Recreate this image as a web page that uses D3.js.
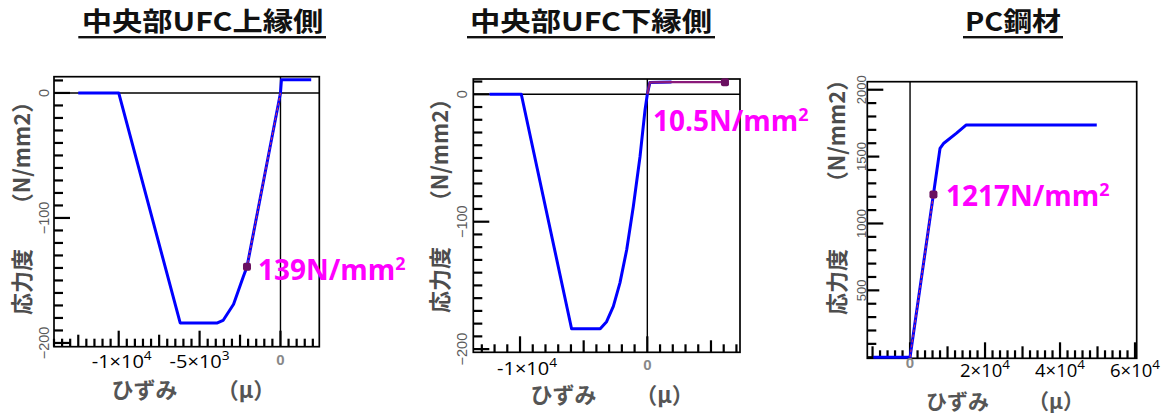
<!DOCTYPE html>
<html><head><meta charset="utf-8">
<script src="https://cdn.jsdelivr.net/npm/d3@7"></script>
<style>body{margin:0;background:#fff}svg{display:block}</style>
</head><body><svg id="c" width="1169" height="414"></svg>
<script>
// ================= DATA =================
const titles = ["中央部UFC上縁側", "中央部UFC下縁側", "PC鋼材"];

const topStrain = [-12500, -10000, -6200, -3900, -3550, -3300, -2900, -2600, -2300, -2070, 0, 60, 1900];
const topStress = [0, 0, -184, -184, -182, -177, -169, -158, -147, -139, 0, 10.5, 10.5];
const topHistStrain = [0, -2070];
const topHistStress = [0, -139];
const topMark = [-2070, -139];
const topNote = ["139N/mm", "2"];
const topXTickVals = [-10000, -5000];
const topXTickText = ["-1×10", "-5×10"];
const topXTickExp = ["4", "3"];
const topYTicks = [0, -100, -200];

const botStrain = [-12400, -9900, -5950, -3700, -3200, -2670, -2150, -1620, -1100, -575, -180, 0, 200, 1900];
const botStress = [0, 0, -184, -184, -178.5, -166.5, -148, -122, -88, -49, -12.3, 0, 9.3, 9.6];
const botHistStrain = [0, 200, 1900, 6100];
const botHistStress = [0, 9.3, 9.6, 9.5];
const botMark = [6100, 9.5];
const botNote = ["10.5N/mm", "2"];
const botXTickVals = [-10000];
const botXTickText = ["-1×10"];
const botXTickExp = ["4"];
const botYTicks = [0, -100, -200];

const pcStrain = [-9800, 0, 8000, 9000, 12400, 15000, 49800];
const pcStress = [0, 0, 1562, 1600, 1675, 1737, 1737];
const pcHistStrain = [0, 6240];
const pcHistStress = [0, 1217];
const pcMark = [6240, 1217];
const pcNote = ["1217N/mm", "2"];
const pcXTickVals = [20000, 40000, 60000];
const pcXTickText = ["2×10", "4×10", "6×10"];
const pcXTickExp = ["4", "4", "4"];
const pcYTicks = [500, 1000, 1500, 2000];

const yTitleA = "応力度";
const yTitleB = "（N/mm2）";
const xTitleA = "ひずみ";
const xTitleB = "（μ）";

// ================= LAYOUT =================
const svg = d3.select("#c");
const CJK = "'Noto Sans CJK JP','Noto Sans CJK SC',sans-serif";
const LAT = "'Open Sans','Liberation Sans',sans-serif";
const ARIAL = "'Liberation Sans',Arial,sans-serif";

const panels = [
  { L: 54, R: 319.3, T: 76.7, B: 346.7, xDom: [-14000, 2400], yDom: [-203, 13],
    xMinor: 500, xMed: 2500, xMaj: 5000, yMinor: 10, yMed: 100, yMaj: 100, hzero: true,
    strain: topStrain, stress: topStress, hs: topHistStrain, hv: topHistStress, mark: topMark,
    note: topNote, noteX: 258, noteY: 280,
    xtv: topXTickVals, xtt: topXTickText, xte: topXTickExp, xtW: 60, xtY: 368, zeroLabY: 365,
    yt: topYTicks, ytX: 43.5,
    title: titles[0], tL: 81.7, tR: 323.3, uL: 78.3, uR: 326,
    yTx: 20, yTaY: 282, yTbY: 153, xTaX: 144.5, xTbX: 246, xTY: 398 },
  { L: 473.3, R: 740, T: 79, B: 352.3, xDom: [-13670, 7280], yDom: [-202.5, 12],
    xMinor: 1000, xMed: 5000, xMaj: 10000, yMinor: 10, yMed: 100, yMaj: 100, hzero: true,
    strain: botStrain, stress: botStress, hs: botHistStrain, hv: botHistStress, mark: botMark,
    note: botNote, noteX: 653, noteY: 131,
    xtv: botXTickVals, xtt: botXTickText, xte: botXTickExp, xtW: 60, xtY: 375, zeroLabY: 370,
    yt: botYTicks, ytX: 461.5,
    title: titles[1], tL: 470, tR: 712, uL: 467, uR: 715,
    yTx: 438, yTaY: 280, yTbY: 150, xTaX: 563.5, xTbX: 664.5, xTY: 403 },
  { L: 867.3, R: 1136.7, T: 81.7, B: 358.3, xDom: [-11400, 60450], yDom: [-8, 2060],
    xMinor: 2000, xMed: 10000, xMaj: 20000, yMinor: 100, yMed: 500, yMaj: 1000, hzero: false,
    strain: pcStrain, stress: pcStress, hs: pcHistStrain, hv: pcHistStress, mark: pcMark,
    note: pcNote, noteX: 946, noteY: 206,
    xtv: pcXTickVals, xtt: pcXTickText, xte: pcXTickExp, xtW: 50, xtY: 377, zeroLabY: 368,
    yt: pcYTicks, ytX: 861.5,
    title: titles[2], tL: 965, tR: 1061, uL: 963, uR: 1063,
    yTx: 835, yTaY: 282, yTbY: 131, xTaX: 957.5, xTbX: 1056, xTY: 409 }
];

function isMult(v, m) { return Math.abs(v / m - Math.round(v / m)) < 1e-6; }

panels.forEach((p, i) => {
  const sx = d3.scaleLinear().domain(p.xDom).range([p.L, p.R]);
  const sy = d3.scaleLinear().domain(p.yDom).range([p.B, p.T]);
  const g = svg.append("g");

  // Title
  g.append("text").attr("x", p.tL).attr("y", 31)
    .attr("textLength", p.tR - p.tL).attr("lengthAdjust", "spacingAndGlyphs")
    .attr("font-family", CJK).attr("font-weight", 700).attr("font-size", 26)
    .attr("fill", "#111").text(p.title);
  g.append("rect").attr("x", p.uL).attr("y", 36).attr("width", p.uR - p.uL).attr("height", 2.4).attr("fill", "#111");

  // frame
  g.append("rect").attr("x", p.L).attr("y", p.T).attr("width", p.R - p.L).attr("height", p.B - p.T)
    .attr("fill", "none").attr("stroke", "#000").attr("stroke-width", 1.7);

  // ticks
  const yTickVals = d3.range(Math.ceil(p.yDom[0] / p.yMinor), Math.floor(p.yDom[1] / p.yMinor) + 1).map(k => k * p.yMinor);
  const xTickVals = d3.range(Math.ceil(p.xDom[0] / p.xMinor), Math.floor(p.xDom[1] / p.xMinor) + 1).map(k => k * p.xMinor);
  yTickVals.forEach(v => {
    const len = isMult(v, p.yMaj) ? 16 : isMult(v, p.yMed) ? 12 : 9;
    g.append("line").attr("x1", p.L).attr("x2", p.L + len).attr("y1", sy(v)).attr("y2", sy(v))
      .attr("stroke", "#000").attr("stroke-width", 2.2);
  });
  xTickVals.forEach(v => {
    const len = isMult(v, p.xMaj) ? 16 : isMult(v, p.xMed) ? 12 : 8;
    g.append("line").attr("x1", sx(v)).attr("x2", sx(v)).attr("y1", p.B).attr("y2", p.B - len)
      .attr("stroke", "#000").attr("stroke-width", 2.2);
  });

  // zero lines
  g.append("line").attr("x1", sx(0)).attr("x2", sx(0)).attr("y1", p.T).attr("y2", p.B)
    .attr("stroke", "#000").attr("stroke-width", 1.4);
  if (p.hzero) g.append("line").attr("x1", p.L).attr("x2", p.R).attr("y1", sy(0)).attr("y2", sy(0))
    .attr("stroke", "#000").attr("stroke-width", 1.4);

  // material curve
  const lineLin = d3.line().x(d => sx(d[0])).y(d => sy(d[1]));
  const pts = p.strain.map((s, k) => [s, p.stress[k]]);
  g.append("path").attr("d", lineLin(pts)).attr("fill", "none")
    .attr("stroke", "#0000ff").attr("stroke-width", 3).attr("stroke-linejoin", "round");

  // loading history
  const hp = p.hs.map((s, k) => [s, p.hv[k]]);
  g.append("path").attr("d", lineLin(hp)).attr("fill", "none")
    .attr("stroke", i === 1 ? "#8a1a7a" : "#c0306a").attr("stroke-width", i === 1 ? 2.2 : 1.2)
    .attr("stroke-dasharray", i === 1 ? null : "3,2");
  g.append("rect").attr("x", sx(p.mark[0]) - 4).attr("y", sy(p.mark[1]) - 4)
    .attr("width", 8).attr("height", 8).attr("rx", 2).attr("fill", "#6a1060");

  // Y tick labels (rotated)
  p.yt.forEach(v => {
    g.append("text").attr("transform", `translate(${p.ytX},${sy(v)}) rotate(-90)`)
      .attr("text-anchor", "middle").attr("dominant-baseline", "central")
      .attr("font-family", ARIAL).attr("font-size", i === 2 ? 13 : 14.5).attr("fill", "#5a5a5a")
      .text(String(v).replace("-", "−"));
  });
  // X tick labels
  g.append("text").attr("x", sx(0)).attr("y", p.zeroLabY).attr("text-anchor", "middle")
    .attr("font-family", ARIAL).attr("font-size", 15).attr("font-weight", 700).attr("fill", "#888").text("0");
  p.xtv.forEach((v, k) => {
    const t = g.append("text").attr("x", sx(v) - p.xtW / 2 + (i === 0 && k === 0 ? 3 : 0) + (i === 1 ? 7 : 0))
      .attr("y", p.xtY).attr("textLength", p.xtW).attr("lengthAdjust", "spacingAndGlyphs")
      .attr("font-family", LAT).attr("font-size", i === 2 ? 18 : 19).attr("fill", "#000");
    t.append("tspan").text(p.xtt[k]);
    t.append("tspan").attr("font-size", 13).attr("dy", -8).text(p.xte[k]);
  });

  // axis titles
  const yTitle = (txt, cy) => g.append("text").attr("transform", `translate(${p.yTx},${cy}) rotate(-90)`)
    .attr("text-anchor", "middle").attr("dominant-baseline", "central")
    .attr("font-family", CJK).attr("font-weight", 700).attr("font-size", 22).attr("fill", "#4d4d4d").text(txt);
  yTitle(yTitleA, p.yTaY); yTitle(yTitleB, p.yTbY);
  const xTitle = (txt, cx) => g.append("text").attr("x", cx).attr("y", p.xTY).attr("text-anchor", "middle")
    .attr("font-family", CJK).attr("font-weight", 700).attr("font-size", i === 2 ? 21 : 22).attr("fill", "#555").text(txt);
  xTitle(xTitleA, p.xTaX); xTitle(xTitleB, p.xTbX);

  // annotation
  const a = g.append("text").attr("x", p.noteX).attr("y", p.noteY)
    .attr("font-family", LAT).attr("font-weight", 700).attr("font-size", 28).attr("fill", "#ff00ff");
  a.append("tspan").text(p.note[0]);
  a.append("tspan").attr("font-size", 18).attr("dy", -10).text(p.note[1]);
});
</script></body></html>
